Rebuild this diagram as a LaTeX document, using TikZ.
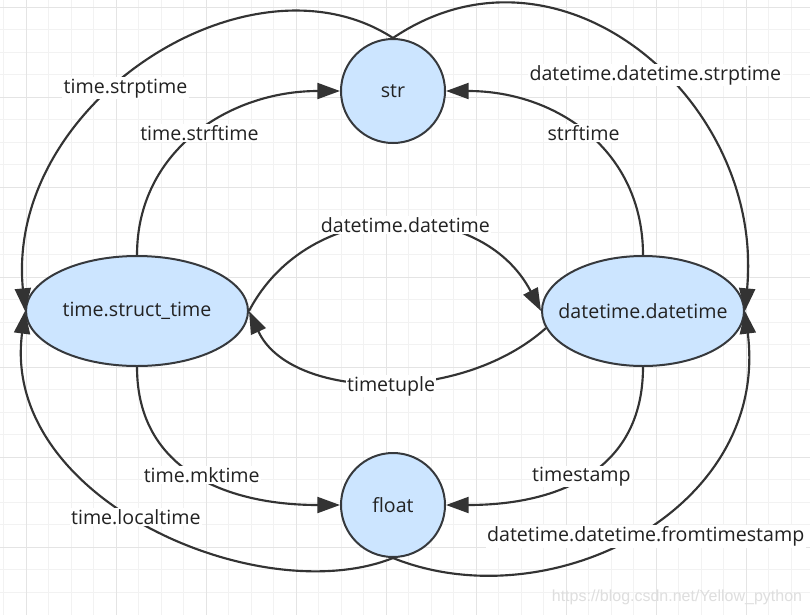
\documentclass[tikz,border=0pt]{standalone}
\usepackage{fontspec}
\setmainfont{Open Sans}
\newfontfamily\markfont{Liberation Sans}
\usetikzlibrary{shapes.geometric,arrows.meta}
\definecolor{nodefill}{HTML}{CCE5FF}
\definecolor{nodeline}{HTML}{36393D}
\definecolor{edgeline}{HTML}{333333}
\definecolor{inktext}{HTML}{222222}
\definecolor{gridminor}{HTML}{F2F2F2}
\definecolor{gridmajor}{HTML}{E4E4E4}
\newcommand{\nowidth}[1]{\makebox[0pt]{#1}}

\begin{document}
\begin{tikzpicture}[x=0.75pt,y=-0.75pt,
	font=\fontsize{14.7}{16}\selectfont, text=inktext,
	circ/.style={circle,draw=nodeline,fill=nodefill,line width=1.5pt,minimum size=78pt,inner sep=0pt},
	oval/.style={ellipse,draw=nodeline,fill=nodefill,line width=1.5pt,minimum height=82.5pt,inner sep=0pt},
	conv/.style={draw=edgeline,line width=1.6pt,-{Triangle[length=17pt,width=12pt]}},
	lbl/.style={fill=white,inner sep=1pt}]
\useasboundingbox (0,0) rectangle (810,615);
\fill[white] (0,0) rectangle (810,615);
\foreach \gx in {3.5,26,...,808} \draw[gridminor,line width=0.75pt] (\gx,0) -- (\gx,615);
\foreach \gy in {7,29.5,...,614} \draw[gridminor,line width=0.75pt] (0,\gy) -- (810,\gy);
\foreach \gx in {26,116,...,808} \draw[gridmajor,line width=0.75pt] (\gx,0) -- (\gx,615);
\foreach \gy in {7,97,...,614} \draw[gridmajor,line width=0.75pt] (0,\gy) -- (810,\gy);

\node[circ] (str) at (393,91) {str};
\node[circ] (float) at (393,505) {float};
\node[oval,minimum width=166.5pt] (stime) at (137,311) {\nowidth{time.struct\_time}};
\node[oval,minimum width=151.5pt] (dt) at (643,311) {\nowidth{datetime.datetime}};

\draw[conv] (str.north) .. controls +(-143,-93) and +(-20,-208) .. (stime.west)
	node[lbl,pos=.55,yshift=-7pt] {time.strptime};
\draw[conv] (str.north) .. controls +(167,-113) and +(20,-211) .. (dt.east)
	node[lbl,pos=.54,yshift=-6pt] {datetime.datetime.strptime};
\draw[conv] (stime.north) .. controls +(0,-105) and +(-110,0) .. (str.west)
	node[lbl,pos=.51,yshift=-1pt] {time.strftime};
\draw[conv] (dt.north) .. controls +(0,-105) and +(110,0) .. (str.east)
	node[lbl,pos=.51,yshift=-1pt] {strftime};
\draw[conv] (stime.east) .. controls +(60,-115) and +(-60,-115) .. (dt.west)
	node[lbl,pos=.53] {datetime.datetime};
\draw[conv] (dt.190) .. controls +(-86,77) and +(41,89) .. (stime.east)
	node[lbl,pos=.47,yshift=-3pt] {timetuple};
\draw[conv] (stime.south) .. controls +(0,105) and +(-110,0) .. (float.west)
	node[lbl,pos=.52,yshift=2pt] {time.mktime};
\draw[conv] (dt.south) .. controls +(0,105) and +(110,0) .. (float.east)
	node[lbl,pos=.52,yshift=1pt] {timestamp};
\draw[conv] (float.south) .. controls +(-133,53) and +(-25,189) .. (stime.west)
	node[lbl,pos=.53] {time.localtime};
\draw[conv] (float.south) .. controls +(157,63) and +(25,199) .. (dt.east)
	node[lbl,pos=.52,yshift=-7pt] {datetime.datetime.fromtimestamp};

\node[font=\markfont\fontsize{12}{14}\selectfont,text=black!13] (mark) at (677,597) {https://blog.csdn.net/Yellow\_python};
\end{tikzpicture}
\end{document}
